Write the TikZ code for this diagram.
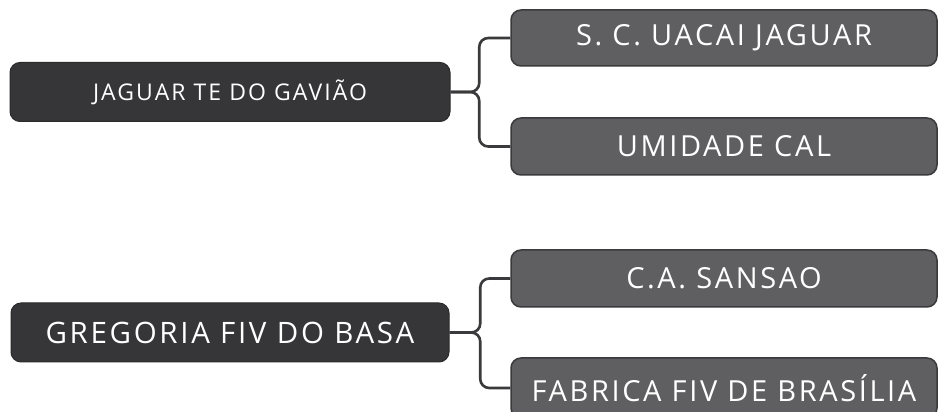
\documentclass[tikz,border=0pt]{standalone}
\usepackage{fontspec}
\setmainfont{Open Sans}[LetterSpace=9]
\usetikzlibrary{positioning}

\definecolor{rootgray}{HTML}{363537}
\definecolor{leafgray}{HTML}{5F5E61}
\definecolor{edgegray}{HTML}{3A393B}

\begin{document}
\begin{tikzpicture}[x=1pt,y=1pt,
		rootbox/.style={fill=rootgray, draw=rootgray!80!black, line width=1pt, rounded corners=10pt,
			text=white, minimum width=440pt, minimum height=59pt, inner sep=0pt},
		leafbox/.style={fill=leafgray, draw=edgegray, line width=1.5pt, rounded corners=10pt,
			text=white, minimum width=426pt, minimum height=56pt, inner sep=0pt,
			font=\fontsize{29}{32}\selectfont},
		link/.style={draw=edgegray, line width=2.6pt, rounded corners=9pt}]
		\clip (0,0) rectangle (938,412);
		\useasboundingbox (0,0) rectangle (938,412);
		\fill[white] (0,0) rectangle (938,412);
		% upper group
		\node (jaguar) [rootbox, font=\fontsize{23}{26}\selectfont] at (230,320) {JAGUAR TE DO GAVIÃO};
		\node (uacai) [leafbox] at (724,374) {S. C. UACAI JAGUAR};
		\node (umidade) [leafbox, minimum height=57pt] at (724,265.5) {UMIDADE CAL};
		\draw[link] (jaguar.east) -| ([xshift=-31pt]uacai.west) -- (uacai.west);
		\draw[link] (jaguar.east) -| ([xshift=-31pt]umidade.west) -- (umidade.west);
		% lower group
		\node (gregoria) [rootbox, minimum width=438pt, font=\fontsize{29.5}{32}\selectfont] at (230,79.5) {GREGORIA FIV DO BASA};
		\node (sansao) [leafbox, minimum height=57pt] at (724,133.5) {C.A. SANSAO};
		\node (fabrica) [leafbox, minimum height=60pt] at (724,24) {FABRICA FIV DE BRASÍLIA};
		\draw[link] (gregoria.east) -| ([xshift=-30pt]sansao.west) -- (sansao.west);
		\draw[link] (gregoria.east) -| ([xshift=-30pt]fabrica.west) -- (fabrica.west);
\end{tikzpicture}
\end{document}
